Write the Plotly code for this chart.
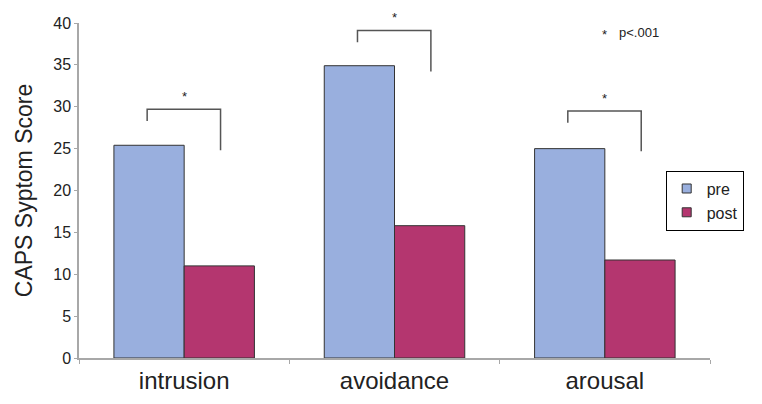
import plotly.graph_objects as go

categories = ["intrusion", "avoidance", "arousal"]
pre = [25.4, 34.9, 25.0]
post = [11.0, 15.8, 11.7]
y_ticks = [0, 5, 10, 15, 20, 25, 30, 35, 40]

# significance brackets (data units)
br_top = [29.7, 39.1, 29.5]
br_left_bottom = [28.3, 37.7, 28.1]
br_right_bottom = [24.8, 34.2, 24.7]
star_y = [31.6, 41.1, 31.4]

Y_MAX = 40
PRE_COLOR = "#99AFDE"
POST_COLOR = "#B4366F"
FONT = "Liberation Sans, Arial, sans-serif"

fig = go.Figure()
fig.add_trace(go.Bar(x=categories, y=pre, name="pre", showlegend=False,
                     marker=dict(color=PRE_COLOR, line=dict(color="#333333", width=1))))
fig.add_trace(go.Bar(x=categories, y=post, name="post", showlegend=False,
                     marker=dict(color=POST_COLOR, line=dict(color="#333333", width=1))))
# legend entries with small square swatches
fig.add_trace(go.Scatter(x=[None], y=[None], mode="markers", name="pre",
                         marker=dict(symbol="square", size=9, color=PRE_COLOR,
                                     line=dict(color="#333333", width=1))))
fig.add_trace(go.Scatter(x=[None], y=[None], mode="markers", name="post",
                         marker=dict(symbol="square", size=9, color=POST_COLOR,
                                     line=dict(color="#333333", width=1))))

shapes = []
annotations = []
for i in range(len(categories)):
    xl = i - 0.176
    xr = i + 0.173
    shapes.append(dict(type="path",
                       path=f"M {xl},{br_left_bottom[i]} L {xl},{br_top[i]} L {xr},{br_top[i]} L {xr},{br_right_bottom[i]}",
                       xref="x", yref="y", line=dict(color="#555555", width=1.5)))
    annotations.append(dict(x=i, y=(star_y[i] + 0.75) / Y_MAX, xref="x", yref="paper", text="*",
                            showarrow=False, yanchor="top",
                            font=dict(family=FONT, size=13, color="#222222")))

annotations.append(dict(x=(604 - 79) / 631, y=(358.5 - 35) / 335.2, xref="paper", yref="paper",
                        text="*", showarrow=False, xanchor="center", yanchor="middle",
                        font=dict(family=FONT, size=13, color="#222222")))
annotations.append(dict(x=(617 - 79) / 631, y=(358.5 - 33) / 335.2, xref="paper", yref="paper",
                        text="p<.001", showarrow=False, xanchor="left", yanchor="middle",
                        font=dict(family=FONT, size=13, color="#222222")))

# page body adds an 8px offset, margins compensate for it
fig.update_layout(
    width=762, height=404,
    margin=dict(l=71, r=60, t=15, b=54, autoexpand=False),
    paper_bgcolor="white", plot_bgcolor="white",
    barmode="group", bargap=0.332, bargroupgap=0,
    font=dict(family=FONT, color="#222222"),
    shapes=shapes, annotations=annotations,
    showlegend=True,
    legend=dict(x=(665.7 - 79) / 631, y=(358.5 - 201) / 335.2, xanchor="left", yanchor="middle",
                bgcolor="white", bordercolor="black", borderwidth=1,
                font=dict(family=FONT, size=16, color="#222222"),
                tracegroupgap=0, itemwidth=30),
    xaxis=dict(showline=True, linecolor="#A8A8A8", linewidth=1.5, ticks="outside",
               tickson="boundaries", ticklen=4, tickcolor="#A8A8A8", automargin=False,
               tickfont=dict(family=FONT, size=24, color="#222222"), showgrid=False),
    yaxis=dict(range=[0, Y_MAX], tickvals=y_ticks, showline=True, linecolor="#A8A8A8", linewidth=1.5,
               ticks="outside", ticklen=3, tickcolor="#A8A8A8", showgrid=False, zeroline=False,
               automargin=False,
               tickfont=dict(family=FONT, size=16, color="#222222"),
               title=dict(text="CAPS Syptom Score", font=dict(family=FONT, size=23, color="#222222"),
                          standoff=14)),
)

fig.write_html("out.html")
